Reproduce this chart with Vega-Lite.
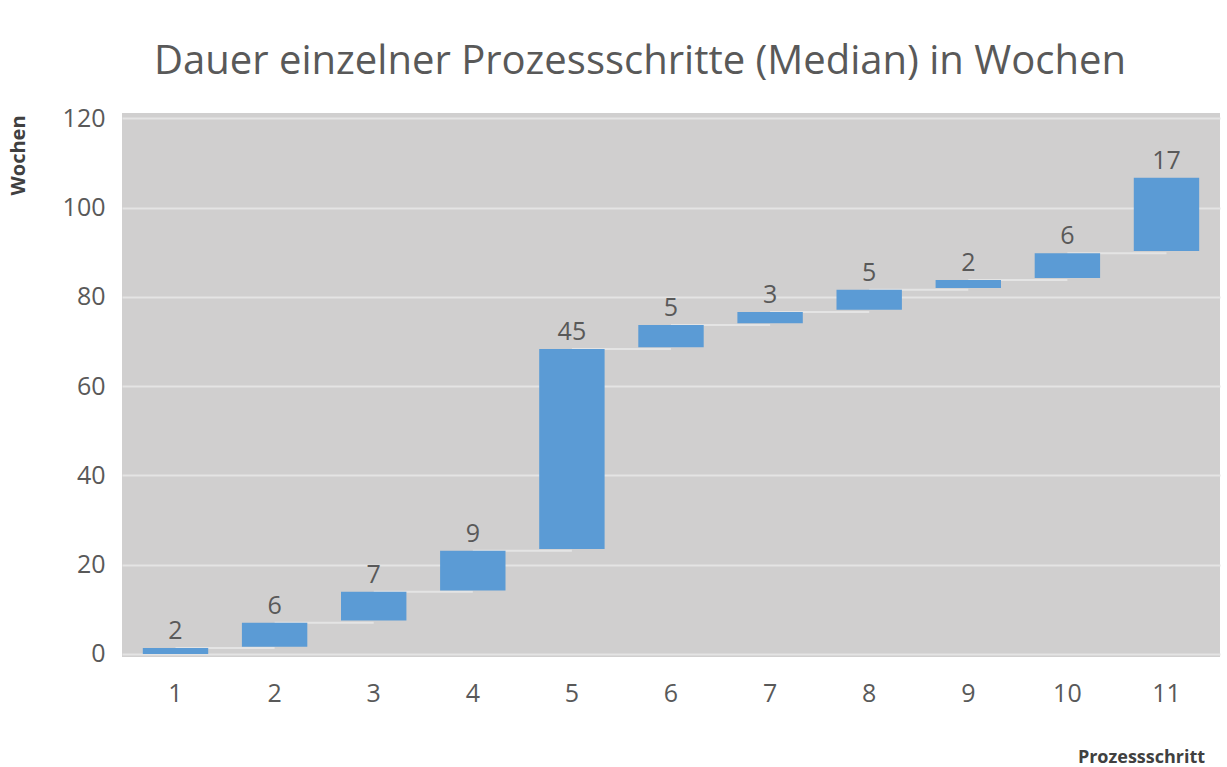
{
  "$schema": "https://vega.github.io/schema/vega-lite/v6.json",
  "width": 1098,
  "height": 544,
  "autosize": {"type": "none"},
  "padding": {"left": 122, "top": 113, "right": 7, "bottom": 110},
  "background": "white",
  "config": {
    "font": "Open Sans",
    "view": {"fill": "#d0cfcf", "stroke": null}
  },
  "title": {
    "text": "Dauer einzelner Prozessschritte (Median) in Wochen",
    "fontSize": 40,
    "fontWeight": "normal",
    "color": "#595959",
    "anchor": "middle",
    "frame": "group",
    "dx": -31,
    "offset": 24
  },
  "data": {
    "values": [
      {"step": 1, "next": 2, "start": 0, "end": 1.3, "label": 2},
      {"step": 2, "next": 3, "start": 1.6, "end": 7.0, "label": 6},
      {"step": 3, "next": 4, "start": 7.5, "end": 13.9, "label": 7},
      {"step": 4, "next": 5, "start": 14.2, "end": 23.1, "label": 9},
      {"step": 5, "next": 6, "start": 23.5, "end": 68.3, "label": 45},
      {"step": 6, "next": 7, "start": 68.7, "end": 73.7, "label": 5},
      {"step": 7, "next": 8, "start": 74.1, "end": 76.6, "label": 3},
      {"step": 8, "next": 9, "start": 77.1, "end": 81.6, "label": 5},
      {"step": 9, "next": 10, "start": 82.0, "end": 83.8, "label": 2},
      {"step": 10, "next": 11, "start": 84.2, "end": 89.8, "label": 6},
      {"step": 11, "next": null, "start": 90.3, "end": 106.7, "label": 17}
    ]
  },
  "encoding": {
    "x": {
      "field": "step",
      "type": "ordinal",
      "scale": {"paddingInner": 0.34, "paddingOuter": 0.21},
      "axis": {
        "title": "Prozessschritt",
        "titleFontSize": 18,
        "titleFontWeight": "bold",
        "titleColor": "#404040",
        "titleX": 1019,
        "titleY": 100,
        "titleAlign": "center",
        "titleBaseline": "middle",
        "labelAngle": 0,
        "labelFontSize": 25,
        "labelColor": "#595959",
        "labelPadding": 24,
        "domain": false,
        "ticks": false,
        "grid": false
      }
    }
  },
  "layer": [
    {
      "mark": {"type": "rule", "color": "#e4e4e4", "strokeWidth": 2},
      "transform": [{"filter": "datum.next != null"}],
      "encoding": {
        "x2": {"field": "next"},
        "y": {"field": "end", "type": "quantitative"}
      }
    },
    {
      "mark": {"type": "bar", "color": "#5b9bd5"},
      "encoding": {
        "y": {
          "field": "start",
          "type": "quantitative",
          "scale": {"domain": [-0.7, 121.2], "nice": false, "zero": false},
          "axis": {
            "title": "Wochen",
            "titleFontSize": 20,
            "titleFontWeight": "bold",
            "titleColor": "#404040",
            "titleAngle": -90,
            "titleX": -104,
            "titleY": 42,
            "titleAlign": "center",
            "titleBaseline": "middle",
            "values": [0, 20, 40, 60, 80, 100, 120],
            "labelFontSize": 25,
            "labelColor": "#595959",
            "labelPadding": 17,
            "domain": false,
            "ticks": false,
            "grid": true,
            "gridColor": "#e4e4e4",
            "gridWidth": 2
          }
        },
        "y2": {"field": "end"}
      }
    },
    {
      "mark": {"type": "text", "baseline": "alphabetic", "dy": -9, "fontSize": 25, "color": "#595959"},
      "encoding": {
        "y": {"field": "end", "type": "quantitative"},
        "text": {"field": "label", "type": "quantitative"}
      }
    }
  ]
}
